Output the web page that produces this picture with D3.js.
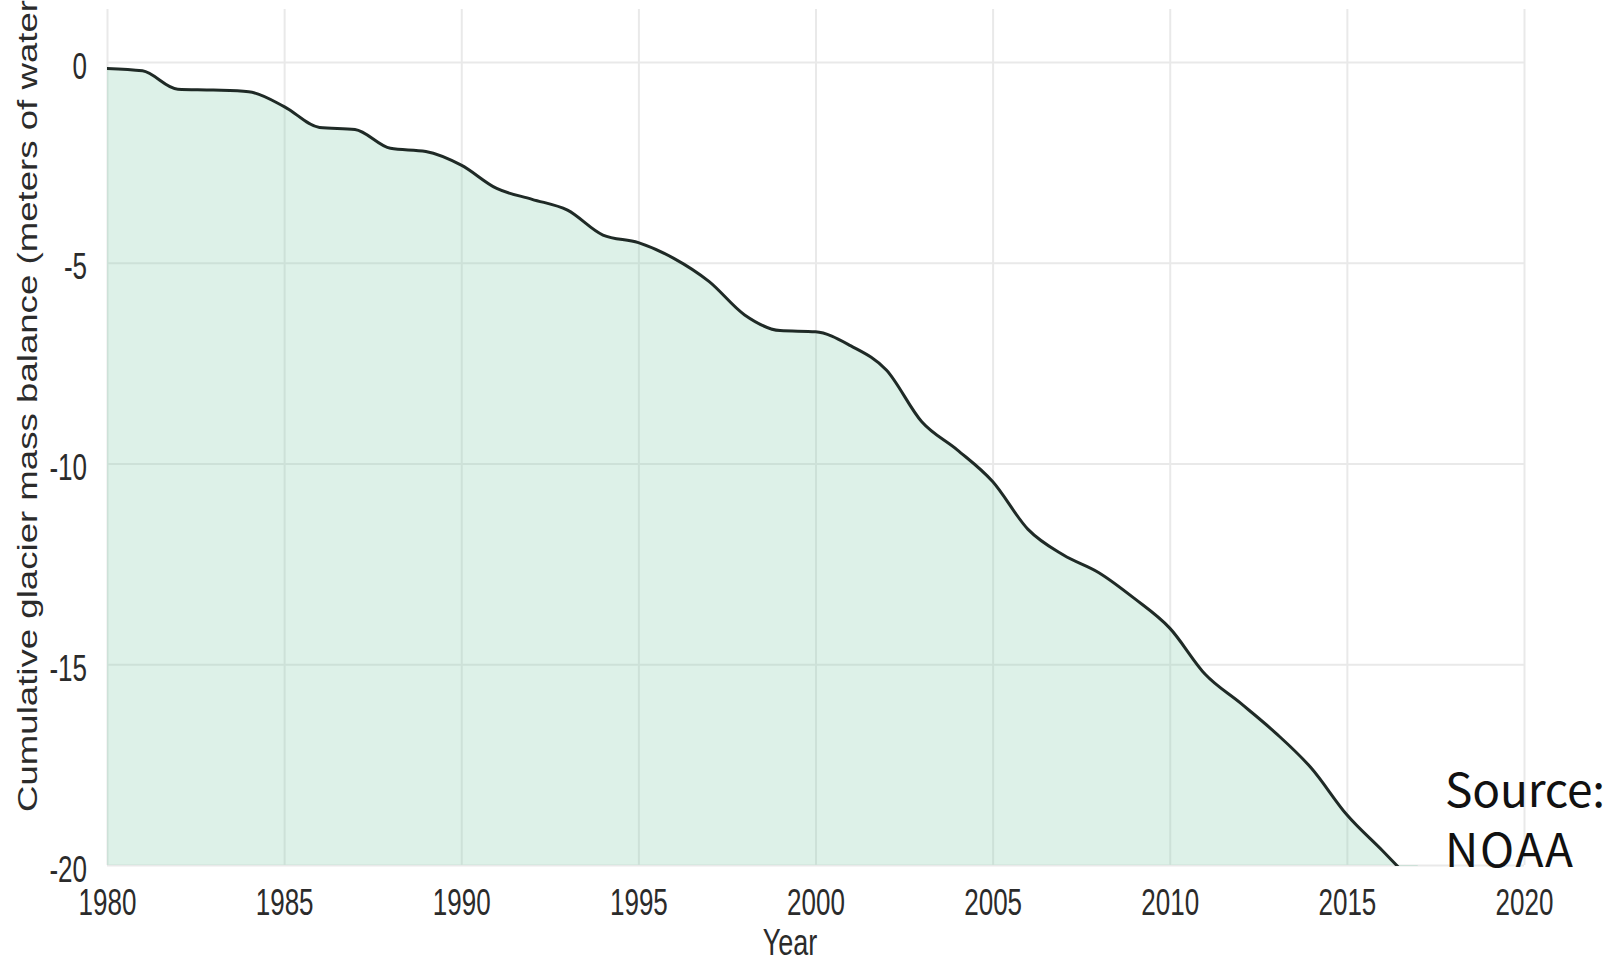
<!DOCTYPE html>
<html>
<head>
<meta charset="utf-8">
<script src="https://cdn.jsdelivr.net/npm/d3@7"></script>
<style>
  html, body { margin: 0; padding: 0; background: #ffffff; }
  svg { display: block; }
</style>
</head>
<body>
<svg id="chart" width="1616" height="962"></svg>
<script>
// ---- data ----
const years = [1980, 1981, 1982, 1983, 1984, 1985, 1986, 1987, 1988, 1989,
               1990, 1991, 1992, 1993, 1994, 1995, 1996, 1997, 1998, 1999,
               2000, 2001, 2002, 2003, 2004, 2005, 2006, 2007, 2008, 2009,
               2010, 2011, 2012, 2013, 2014, 2015, 2016, 2017];
const balance = [-0.16, -0.22, -0.68, -0.70, -0.74, -1.11, -1.63, -1.68, -2.15, -2.23,
                 -2.57, -3.15, -3.42, -3.69, -4.31, -4.50, -4.89, -5.47, -6.30, -6.69,
                 -6.72, -7.07, -7.67, -8.96, -9.66, -10.45, -11.64, -12.28, -12.72, -13.36,
                 -14.10, -15.25, -15.97, -16.72, -17.59, -18.75, -19.64, -20.55];
const xTicks = [1980, 1985, 1990, 1995, 2000, 2005, 2010, 2015, 2020];
const yTicks = [0, -5, -10, -15, -20];
const xDomain = [1980, 2020];
const yDomain = [-20, 1.32];
const xTitle = "Year";
const yTitle = "Cumulative glacier mass balance (meters of water";
const sourceLines = ["Source:", "NOAA"];

// ---- layout ----
const panel = { left: 107, right: 1524, top: 9, bottom: 865 };
const stretch = 1.4;
const svg = d3.select("#chart");

const x = d3.scaleLinear().domain(xDomain).range([panel.left, panel.right]);
const y = d3.scaleLinear().domain(yDomain).range([panel.bottom, panel.top]);

const data = years.map((yr, i) => ({ year: yr, value: balance[i] }));

// clip to panel
svg.append("defs").append("clipPath").attr("id", "panelClip")
  .append("rect")
  .attr("x", panel.left).attr("y", panel.top)
  .attr("width", panel.right - panel.left).attr("height", panel.bottom - panel.top + 1);

// ---- gridlines ----
const gridX = svg.append("g")
  .attr("transform", `translate(0,${panel.bottom})`)
  .call(d3.axisBottom(x).tickValues(xTicks).tickSize(-(panel.bottom - panel.top)).tickFormat(""));
gridX.select(".domain").remove();
gridX.selectAll("line").attr("stroke", "#e9e9e9").attr("stroke-width", 2);

const gridY = svg.append("g")
  .attr("transform", `translate(${panel.left},0)`)
  .call(d3.axisLeft(y).tickValues(yTicks).tickSize(-(panel.right - panel.left)).tickFormat(""));
gridY.select(".domain").remove();
gridY.selectAll("line").attr("stroke", "#e9e9e9").attr("stroke-width", 2);

// ---- area + line ----
const plot = svg.append("g").attr("clip-path", "url(#panelClip)");

const area = d3.area()
  .x(d => x(d.year))
  .y0(y(yDomain[0]))
  .y1(d => y(d.value))
  .curve(d3.curveMonotoneX);

const line = d3.line()
  .x(d => x(d.year))
  .y(d => y(d.value))
  .curve(d3.curveMonotoneX);

plot.append("path")
  .datum(data)
  .attr("d", area)
  .attr("fill", "#8fd1b4")
  .attr("fill-opacity", 0.3);

plot.append("path")
  .datum(data)
  .attr("d", line)
  .attr("fill", "none")
  .attr("stroke", "#1f2a26")
  .attr("stroke-width", 3)
  .attr("stroke-linejoin", "round")
  .attr("stroke-linecap", "round");

// ---- axes labels ----
const fontFam = "'Liberation Sans', Arial, sans-serif";
const textCol = "#2b2b2b";

const xAxis = svg.append("g")
  .attr("transform", `translate(0,${panel.bottom})`)
  .call(d3.axisBottom(x).tickValues(xTicks).tickSize(0).tickFormat(d => String(d)));
xAxis.select(".domain").remove();
xAxis.selectAll("text")
  .attr("y", 50 / stretch).attr("dy", 0)
  .attr("transform", `scale(1,${stretch})`)
  .attr("font-family", fontFam).attr("font-size", 26)
  .attr("fill", textCol);

const yAxis = svg.append("g")
  .attr("transform", `translate(${panel.left},0)`)
  .call(d3.axisLeft(y).tickValues(yTicks).tickSize(0).tickFormat(d => String(d)));
yAxis.select(".domain").remove();
yAxis.selectAll("text")
  .attr("x", -20).attr("y", 16 / stretch).attr("dy", 0)
  .attr("transform", `scale(1,${stretch})`)
  .attr("font-family", fontFam).attr("font-size", 26)
  .attr("fill", textCol);

// x title
svg.append("text")
  .attr("transform", `translate(790,955) scale(1,${stretch})`)
  .attr("text-anchor", "middle")
  .attr("font-family", fontFam).attr("font-size", 27)
  .attr("fill", textCol)
  .text(xTitle);

// y title (rotated, stretched along its length)
svg.append("text")
  .attr("transform", "translate(37,812) rotate(-90)")
  .attr("x", 0).attr("y", 0)
  .attr("text-anchor", "start")
  .attr("textLength", 812)
  .attr("lengthAdjust", "spacingAndGlyphs")
  .attr("font-family", fontFam).attr("font-size", 27)
  .attr("fill", textCol)
  .text(yTitle);

// source note
const srcFont = "'Noto Sans CJK JP', 'Noto Sans', sans-serif";
const srcBase = [807, 867];
const srcLen = [160, 128];
sourceLines.forEach((t, i) => {
  svg.append("text")
    .attr("x", 1445).attr("y", srcBase[i])
    .attr("textLength", srcLen[i])
    .attr("font-family", srcFont).attr("font-size", 46)
    .attr("fill", "#111111")
    .text(t);
});
</script>
</body>
</html>
